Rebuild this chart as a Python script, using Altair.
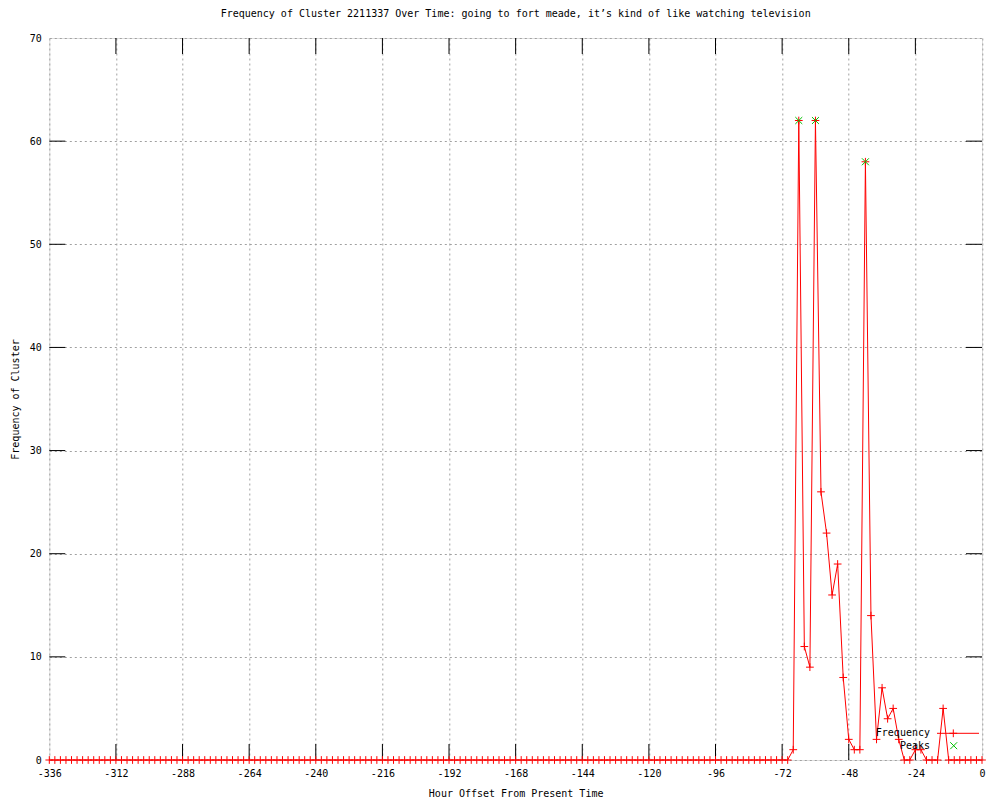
import altair as alt
import pandas as pd

# ---- data ----
hours = list(range(-336, 1, 2))
freq_tail = [1, 62, 11, 9, 62, 26, 22, 16, 19, 8, 2, 1, 1, 58, 14, 2, 7, 4, 5, 2,
             0, 0, 1, 1, 0, 0, 0, 5, 0, 0, 0, 0, 0, 0, 0]
freq = [0] * (len(hours) - len(freq_tail)) + freq_tail
peak_hours = [-66, -60, -42]
peak_values = [62, 62, 58]
x_ticks = list(range(-336, 1, 24))
x_inner_ticks = list(range(-312, 0, 24))
y_ticks = list(range(0, 71, 10))
y_inner_ticks = list(range(10, 70, 10))
legend_labels = ["Frequency", "Peaks"]
title_text = "Frequency of Cluster 2211337 Over Time: going to fort meade, it\u2019s kind of like watching television"

W = 932.7
H = 722
FONT = "DejaVu Sans Mono"
RED = "#ff0000"
GREEN = "#00c000"
GRID = "#a0a0a0"
TICK = 16
PLUS = "M-1,0L1,0M0,-1L0,1"
XSHAPE = "M-1,-1L1,1M-1,1L1,-1"

df = pd.DataFrame({"hour": hours, "freq": freq})
peaks = pd.DataFrame({"hour": peak_hours, "freq": peak_values})

xscale = alt.Scale(domain=[-336, 0], nice=False, zero=False)
yscale = alt.Scale(domain=[0, 70], nice=False)

xaxis = alt.Axis(values=x_ticks, title="Hour Offset From Present Time",
                 labelExpr="'' + datum.value", tickSize=0, domain=False,
                 grid=True, gridDash=[2, 3], gridColor=GRID, gridOpacity=1,
                 labelFont=FONT, labelFontSize=10, labelColor="black",
                 titleFont=FONT, titleFontSize=10, titleFontWeight="normal", titleColor="black",
                 labelPadding=8, titlePadding=10, labelFlush=False, labelOverlap=False)
yaxis = alt.Axis(values=y_ticks, title="Frequency of Cluster",
                 labelExpr="'' + datum.value", tickSize=0, domain=False,
                 grid=True, gridDash=[2, 3], gridColor=GRID, gridOpacity=1,
                 labelFont=FONT, labelFontSize=10, labelColor="black",
                 titleFont=FONT, titleFontSize=10, titleFontWeight="normal", titleColor="black",
                 labelPadding=8, titlePadding=9, labelFlush=False, labelOverlap=False)

base = alt.Chart(df)

line = base.mark_line(color=RED, strokeWidth=1, clip=False).encode(
    x=alt.X("hour:Q", scale=xscale, axis=xaxis),
    y=alt.Y("freq:Q", scale=yscale, axis=yaxis),
)
pts = base.mark_point(shape=PLUS, size=60, filled=False, color=RED, strokeWidth=1, opacity=1).encode(
    x="hour:Q", y="freq:Q")
peak_pts = alt.Chart(peaks).mark_point(shape=XSHAPE, size=48, filled=False, color=GREEN,
                                       strokeWidth=1, opacity=1).encode(x="hour:Q", y="freq:Q")

xt = pd.DataFrame({"t": x_inner_ticks})
yt = pd.DataFrame({"t": y_inner_ticks})
xt_bottom = alt.Chart(xt).mark_rule(color="black", strokeWidth=1).encode(
    x="t:Q", y=alt.value(H), y2=alt.value(H - TICK))
xt_top = alt.Chart(xt).mark_rule(color="black", strokeWidth=1).encode(
    x="t:Q", y=alt.value(0), y2=alt.value(TICK))
yt_left = alt.Chart(yt).mark_rule(color="black", strokeWidth=1).encode(
    y="t:Q", x=alt.value(0), x2=alt.value(TICK))
yt_right = alt.Chart(yt).mark_rule(color="black", strokeWidth=1).encode(
    y="t:Q", x=alt.value(W - TICK), x2=alt.value(W))

# legend (gnuplot style: text left of sample)
lg1 = pd.DataFrame({"label": [legend_labels[0]]})
lg2 = pd.DataFrame({"label": [legend_labels[1]]})
LX_TEXT = 880.7
LY1 = 695.3
LY2 = 707.7
leg_t1 = alt.Chart(lg1).mark_text(align="right", baseline="middle", font=FONT, fontSize=10,
                                   color="black").encode(text="label:N", x=alt.value(LX_TEXT), y=alt.value(LY1))
leg_t2 = alt.Chart(lg2).mark_text(align="right", baseline="middle", font=FONT, fontSize=10,
                                   color="black").encode(text="label:N", x=alt.value(LX_TEXT), y=alt.value(LY2))
leg_line = alt.Chart(lg1).mark_rule(color=RED, strokeWidth=1).encode(
    x=alt.value(887.7), x2=alt.value(929.7), y=alt.value(LY1))
leg_plus = alt.Chart(lg1).mark_point(shape=PLUS, size=60, filled=False, color=RED, strokeWidth=1,
                                     opacity=1).encode(x=alt.value(904), y=alt.value(LY1))
leg_x = alt.Chart(lg2).mark_point(shape=XSHAPE, size=48, filled=False, color=GREEN, strokeWidth=1,
                                  opacity=1).encode(x=alt.value(904.4), y=alt.value(LY2))

chart = alt.layer(
    xt_bottom, xt_top, yt_left, yt_right,
    line, pts, peak_pts,
    leg_t1, leg_t2, leg_line, leg_plus, leg_x,
).properties(
    width=W, height=H,
    title=alt.Title(title_text, font=FONT, fontSize=10, fontWeight="normal", color="black",
                    anchor="middle", frame="group", offset=14),
    autosize=alt.AutoSizeParams(type="none"),
    padding={"left": 41.3, "top": 30, "right": 10, "bottom": 40},
).configure_view(stroke="black", strokeWidth=1).configure(background="white")

chart.save("out.html", embed_options={"renderer": "svg", "actions": False})
